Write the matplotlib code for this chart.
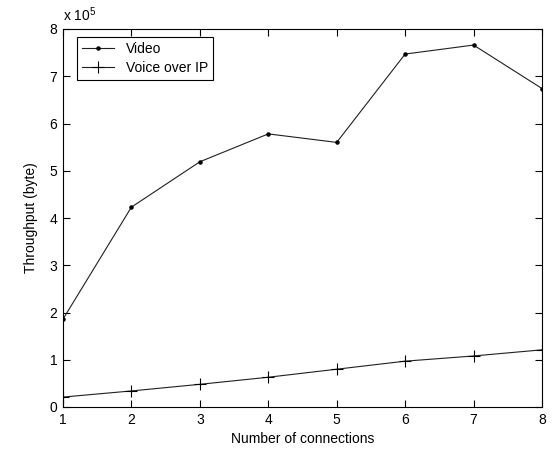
import matplotlib
matplotlib.use("Agg")
import matplotlib.pyplot as plt

plt.rcParams.update({
    "font.family": ["Liberation Sans", "DejaVu Sans"],
    "font.size": 10,
    "mathtext.default": "regular",
})

connections = [1, 2, 3, 4, 5, 6, 7, 8]
video = [1.86e5, 4.23e5, 5.19e5, 5.78e5, 5.60e5, 7.47e5, 7.66e5, 6.74e5]
voip = [0.21e5, 0.34e5, 0.48e5, 0.63e5, 0.80e5, 0.97e5, 1.08e5, 1.21e5]

fig = plt.figure(figsize=(5.53, 4.51), dpi=100)
ax = fig.add_axes([63 / 553, 44 / 451, 479 / 553, 378 / 451])

line_col = "#202020"
ax.plot(connections, [v / 1e5 for v in video], color=line_col, linewidth=0.8,
        marker=".", markersize=4.5, markerfacecolor="black",
        markeredgecolor="black", label="Video")
ax.plot(connections, [v / 1e5 for v in voip], color=line_col, linewidth=0.8,
        marker="+", markersize=9, markeredgewidth=0.8,
        markeredgecolor="black", label="Voice over IP")

ax.set_xlim(1, 8)
ax.set_ylim(0, 8)
ax.set_xticks(connections)
ax.set_yticks(range(0, 9))
ax.tick_params(direction="in", length=5, width=0.8, top=True, right=True,
               pad=4)
for sp in ax.spines.values():
    sp.set_linewidth(0.8)

ax.set_xlabel("Number of connections", labelpad=4)
ax.set_ylabel("Throughput (byte)", labelpad=8)
ax.text(0.0, 1.012, r"x $10^5$", transform=ax.transAxes, ha="left", va="bottom")

leg = ax.legend(loc="upper left", bbox_to_anchor=(0.029, 0.978), fancybox=False,
                framealpha=1, edgecolor="black", borderpad=0.35,
                handlelength=2.3, handletextpad=0.9, labelspacing=0.35,
                borderaxespad=0)
leg.get_frame().set_linewidth(0.8)

fig.savefig("out.png", dpi=100)
